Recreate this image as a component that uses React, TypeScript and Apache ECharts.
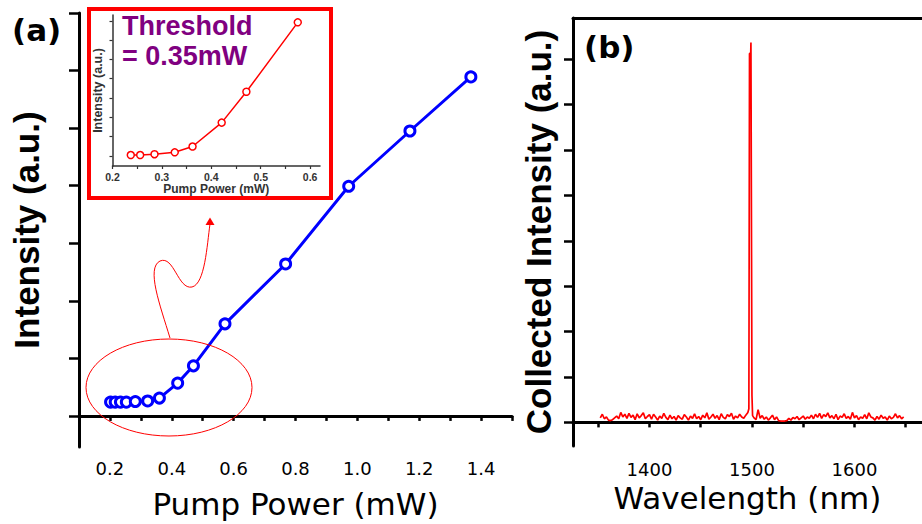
import React, { useEffect, useRef } from "react";
import * as echarts from "echarts";

// Panel (a): main curve
const mainPower = [0.202, 0.217, 0.234, 0.253, 0.282, 0.322, 0.36, 0.419, 0.47, 0.572, 0.768, 0.972, 1.17, 1.367];
const mainIntensity = [0.24, 0.24, 0.24, 0.24, 0.25, 0.26, 0.31, 0.57, 0.87, 1.6, 2.64, 3.99, 4.95, 5.89];
const mainXTicks = [0.1, 0.2, 0.3, 0.4, 0.5, 0.6, 0.7, 0.8, 0.9, 1.0, 1.1, 1.2, 1.3, 1.4, 1.5];
const mainXLabels = [0.2, 0.4, 0.6, 0.8, 1.0, 1.2, 1.4];
const mainYTicks = [0, 1, 2, 3, 4, 5, 6, 7];

// Panel (a): inset
const insetPower = [0.237, 0.256, 0.285, 0.326, 0.362, 0.421, 0.471, 0.575];
const insetIntensity = [0.52, 0.52, 0.54, 0.59, 0.74, 1.36, 2.16, 3.96];
const insetXTicks = [0.2, 0.25, 0.3, 0.35, 0.4, 0.45, 0.5, 0.55, 0.6];
const insetXLabels = [0.2, 0.3, 0.4, 0.5, 0.6];
const insetYTicks = [0.5, 1, 1.5, 2, 2.5, 3, 3.5, 4];

// Panel (b): spectrum
const specXTicks = [1350, 1400, 1450, 1500, 1550, 1600, 1650];
const specXLabels = [1400, 1500, 1600];
const specYTicks = [0, 1, 2, 3, 4, 5, 6, 7, 8];
const noiseBeforeStart = 1352;
const noiseAfterStart = 1502;
const noiseStep = 2;
const noiseBefore = [
  0.10, 0.18, 0.08, 0.12, 0.05, 0.04, 0.06, 0.10, 0.14, 0.08,
  0.22, 0.12, 0.18, 0.09, 0.20, 0.11, 0.16, 0.06, 0.19, 0.10,
  0.15, 0.21, 0.08, 0.13, 0.17, 0.07, 0.18, 0.12, 0.05, 0.14,
  0.09, 0.20, 0.11, 0.06, 0.16, 0.08, 0.13, 0.05, 0.15, 0.10,
  0.07, 0.17, 0.12, 0.05, 0.14, 0.09, 0.19, 0.08, 0.13, 0.06,
  0.16, 0.10, 0.21, 0.07, 0.12, 0.18, 0.09, 0.15, 0.06, 0.19,
  0.11, 0.08, 0.17, 0.13, 0.20, 0.07, 0.14, 0.10, 0.18, 0.12,
  0.09, 0.16, 0.22,
];
const peakWavelength = [1497, 1497.6, 1498.8, 1499.0, 1499.6, 1500.0, 1500.6];
const peakIntensity = [0.3, 8.13, 8.13, 8.37, 8.37, 0.6, 0.15];
const noiseAfter = [
  0.10, 0.06, 0.28, 0.09, 0.15, 0.07, 0.12, 0.05, 0.10, 0.16,
  0.06, 0.12, 0.04, 0.03, 0.03, 0.03, 0.04, 0.09, 0.05, 0.11,
  0.08, 0.13, 0.06, 0.10, 0.14, 0.07, 0.12, 0.09, 0.16, 0.08,
  0.18, 0.11, 0.20, 0.09, 0.17, 0.13, 0.21, 0.10, 0.15, 0.08,
  0.18, 0.06, 0.14, 0.11, 0.19, 0.09, 0.13, 0.07, 0.22, 0.10,
  0.15, 0.06, 0.12, 0.09, 0.17, 0.08, 0.21, 0.12, 0.10, 0.05,
  0.13, 0.07, 0.16, 0.09, 0.12, 0.05, 0.14, 0.08, 0.11, 0.19,
  0.10, 0.15, 0.08, 0.12,
];

const SANS = "DejaVu Sans";
const ARIAL = "Liberation Sans";

export default function App() {
  const ref = useRef<HTMLDivElement>(null);
  useEffect(() => {
    if (!ref.current) return;
    const chart = echarts.init(ref.current, undefined, { renderer: "svg" });

    const spectrum: number[][] = [];
    noiseBefore.forEach((v, i) => spectrum.push([noiseBeforeStart + i * noiseStep, v]));
    peakWavelength.forEach((w, i) => spectrum.push([w, peakIntensity[i]]));
    noiseAfter.forEach((v, i) => spectrum.push([noiseAfterStart + i * noiseStep, v]));

    const black = "#000";
    const bigAxisLine = { show: true, lineStyle: { color: black, width: 3 } };

    chart.setOption({
      animation: false,
      backgroundColor: "#fff",
      grid: [
        { left: 79, right: 410, top: 13, bottom: 77 },
        { left: 573, right: 0, top: 18, bottom: 78 },
        { left: 112.5, right: 602, top: 15, bottom: 358 },
      ],
      xAxis: [
        {
          type: "value", gridIndex: 0, min: 0.1, max: 1.5,
          axisLine: bigAxisLine,
          axisTick: { show: true, customValues: mainXTicks, length: 5, lineStyle: { color: black, width: 2.5 } },
          axisLabel: { customValues: mainXLabels, formatter: (v: number) => v.toFixed(1), margin: 12, fontFamily: SANS, fontSize: 18, color: black },
          splitLine: { show: false },
          name: "Pump Power (mW)", nameLocation: "middle", nameGap: 41,
          nameTextStyle: { fontFamily: SANS, fontSize: 31, color: black },
        },
        {
          type: "value", gridIndex: 1, min: 1325.4, max: 1665.9,
          axisLine: bigAxisLine,
          axisTick: { show: true, customValues: specXTicks, length: 5, lineStyle: { color: black, width: 2.5 } },
          axisLabel: { customValues: specXLabels, formatter: (v: number) => String(v), margin: 14, fontFamily: SANS, fontSize: 18, color: black },
          splitLine: { show: false },
          name: "Wavelength (nm)", nameLocation: "middle", nameGap: 29,
          nameTextStyle: { fontFamily: SANS, fontSize: 31, color: black },
        },
        {
          type: "value", gridIndex: 1, position: "top", min: 1325.4, max: 1665.9,
          axisLine: bigAxisLine, axisTick: { show: false }, axisLabel: { show: false }, splitLine: { show: false },
        },
        {
          type: "value", gridIndex: 2, min: 0.2, max: 0.62,
          axisLine: { show: true, lineStyle: { color: "#333", width: 1.5 } },
          axisTick: { show: true, customValues: insetXTicks, length: 3, lineStyle: { color: "#333", width: 1.2 } },
          axisLabel: { customValues: insetXLabels, formatter: (v: number) => v.toFixed(1), margin: 5, fontFamily: ARIAL, fontWeight: "bold", fontSize: 10.5, color: "#333" },
          splitLine: { show: false },
          name: "Pump Power (mW)", nameLocation: "middle", nameGap: 15,
          nameTextStyle: { fontFamily: ARIAL, fontWeight: "bold", fontSize: 12, color: "#333" },
        },
      ],
      yAxis: [
        {
          type: "value", gridIndex: 0, min: -0.54, max: 7,
          axisLine: bigAxisLine,
          axisTick: { show: true, customValues: mainYTicks, length: 10, lineStyle: { color: black, width: 2.5 } },
          axisLabel: { show: false },
          splitLine: { show: false },
          name: "Intensity (a.u.)", nameLocation: "middle", nameGap: 35,
          nameTextStyle: { fontFamily: ARIAL, fontWeight: "bold", fontSize: 35, color: black },
        },
        {
          type: "value", gridIndex: 1, min: -0.52, max: 8.91,
          axisLine: bigAxisLine,
          axisTick: { show: true, customValues: specYTicks, length: 9, lineStyle: { color: black, width: 2.5 } },
          axisLabel: { show: false },
          splitLine: { show: false },
          name: "Collected Intensity (a.u.)", nameLocation: "middle", nameGap: 17,
          nameTextStyle: { fontFamily: ARIAL, fontWeight: "bold", fontSize: 35, color: black },
        },
        {
          type: "value", gridIndex: 2, min: 0.235, max: 4.15,
          axisLine: { show: true, lineStyle: { color: "#333", width: 1.5 } },
          axisTick: { show: true, customValues: insetYTicks, length: 3, lineStyle: { color: "#333", width: 1.2 } },
          axisLabel: { show: false },
          splitLine: { show: false },
          name: "Intensity (a.u.)", nameLocation: "middle", nameGap: 8,
          nameTextStyle: { fontFamily: ARIAL, fontWeight: "bold", fontSize: 12.5, color: "#333" },
        },
      ],
      series: [
        {
          type: "line", xAxisIndex: 0, yAxisIndex: 0,
          data: mainPower.map((p, i) => [p, mainIntensity[i]]),
          symbol: "circle", symbolSize: 10,
          lineStyle: { color: "#0000ff", width: 3 },
          itemStyle: { color: "#fff", borderColor: "#0000ff", borderWidth: 3 },
          z: 3,
        },
        {
          type: "line", xAxisIndex: 1, yAxisIndex: 1,
          data: spectrum, showSymbol: false, symbol: "none",
          lineStyle: { color: "#ff0000", width: 1.7 },
        },
        {
          type: "line", xAxisIndex: 3, yAxisIndex: 2,
          data: insetPower.map((p, i) => [p, insetIntensity[i]]),
          symbol: "circle", symbolSize: 7,
          lineStyle: { color: "#ff0000", width: 1.5 },
          itemStyle: { color: "#fff", borderColor: "#ff0000", borderWidth: 1.5 },
          z: 3,
        },
      ],
      graphic: [
        {
          type: "rect", z: 1,
          shape: { x: 89, y: 9, width: 242, height: 189 },
          style: { fill: "none", stroke: "#ff0000", lineWidth: 4 },
        },
        {
          type: "text", x: 122, y: 11, z: 5,
          style: {
            text: "Threshold\n= 0.35mW", fill: "#800080",
            font: "bold 27px 'Liberation Sans'", lineHeight: 30,
            textVerticalAlign: "top", verticalAlign: "top",
          },
        },
        {
          type: "ellipse", z: 5,
          shape: { cx: 169, cy: 387.5, rx: 83, ry: 48.5 },
          style: { fill: "none", stroke: "#ff0000", lineWidth: 1 },
        },
        {
          type: "bezierCurve", z: 5,
          shape: { x1: 170, y1: 338, cpx1: 160, cpy1: 305, cpx2: 146, cpy2: 268, x2: 160, y2: 261 },
          style: { fill: "none", stroke: "#ff0000", lineWidth: 1 },
        },
        {
          type: "bezierCurve", z: 5,
          shape: { x1: 160, y1: 261, cpx1: 174, cpy1: 255, cpx2: 178, cpy2: 290, x2: 192, y2: 287 },
          style: { fill: "none", stroke: "#ff0000", lineWidth: 1 },
        },
        {
          type: "bezierCurve", z: 5,
          shape: { x1: 192, y1: 287, cpx1: 205, cpy1: 284, cpx2: 207, cpy2: 245, x2: 210, y2: 224 },
          style: { fill: "none", stroke: "#ff0000", lineWidth: 1 },
        },
        {
          type: "polygon", z: 5,
          shape: { points: [[210, 217.5], [205.5, 225], [214.5, 225]] },
          style: { fill: "#ff0000" },
        },
        {
          type: "text", x: 12, y: 14, z: 5,
          style: { text: "(a)", fill: black, font: "bold 31px 'DejaVu Sans'", textVerticalAlign: "top", verticalAlign: "top" },
        },
        {
          type: "text", x: 584, y: 31, z: 5,
          style: { text: "(b)", fill: black, font: "bold 31px 'DejaVu Sans'", textVerticalAlign: "top", verticalAlign: "top" },
        },
      ],
    });
    return () => chart.dispose();
  }, []);
  return <div ref={ref} style={{ position: "absolute", left: 0, top: 0, width: 922, height: 524 }} />;
}
